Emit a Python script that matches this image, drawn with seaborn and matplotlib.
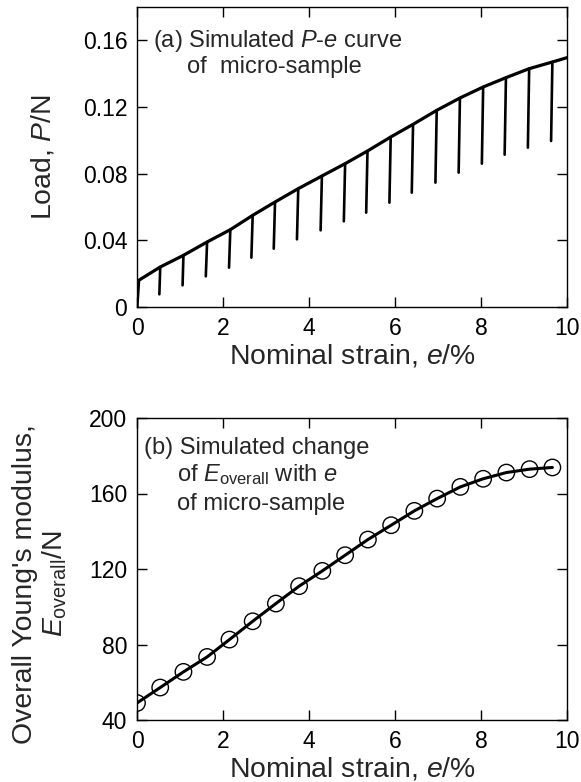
import matplotlib
matplotlib.use("Agg")
import matplotlib.pyplot as plt
import seaborn as sns
import pandas as pd

# ---- data ----
load_strain = [0.0, 0.04, 0.54, 1.08, 1.63, 2.17, 2.69, 3.21, 3.75, 4.30, 4.84,
               5.36, 5.90, 6.42, 6.97, 7.51, 8.05, 8.58, 9.12, 9.66, 10.0]
load_value = [0.0, 0.016, 0.024, 0.031, 0.039, 0.0464, 0.055, 0.063, 0.071, 0.0786,
              0.086, 0.0936, 0.102, 0.1096, 0.118, 0.1254, 0.132, 0.1376, 0.143,
              0.147, 0.1496]

unload_strain_top = [0.54, 1.08, 1.63, 2.17, 2.69, 3.21, 3.75, 4.30, 4.84, 5.36,
                     5.90, 6.42, 6.97, 7.51, 8.05, 8.58, 9.12, 9.66]
unload_load_top = [0.024, 0.031, 0.039, 0.0464, 0.055, 0.063, 0.071, 0.0786, 0.086,
                   0.0936, 0.102, 0.1096, 0.118, 0.1254, 0.132, 0.1376, 0.143, 0.147]
unload_strain_bot = [0.52, 1.06, 1.60, 2.14, 2.66, 3.18, 3.72, 4.27, 4.81, 5.33,
                     5.87, 6.39, 6.94, 7.48, 8.02, 8.55, 9.09, 9.63]
unload_load_bot = [0.0076, 0.013, 0.0184, 0.0236, 0.0296, 0.035, 0.0406, 0.046,
                   0.0514, 0.0566, 0.0626, 0.0686, 0.0746, 0.0806, 0.086, 0.0914,
                   0.0956, 0.0996]

mod_strain = [0.0, 0.54, 1.08, 1.63, 2.15, 2.69, 3.23, 3.77, 4.31, 4.84, 5.37,
              5.91, 6.45, 6.98, 7.52, 8.05, 8.59, 9.13, 9.66]
mod_value = [49.0, 57.2, 65.5, 73.4, 82.6, 92.3, 101.7, 110.9, 119.0, 127.3, 135.6,
             143.2, 150.8, 157.3, 163.5, 167.8, 171.1, 172.9, 173.8]

x_ticks = [0, 2, 4, 6, 8, 10]
load_ticks = [0, 0.04, 0.08, 0.12, 0.16]
load_tick_labels = ["0", "0.04", "0.08", "0.12", "0.16"]
mod_ticks = [40, 80, 120, 160, 200]

# ---- style ----
sns.set_style("ticks")
plt.rcParams["font.family"] = ["Liberation Sans", "DejaVu Sans"]
plt.rcParams["mathtext.fontset"] = "custom"
plt.rcParams["mathtext.rm"] = "Liberation Sans"
plt.rcParams["mathtext.it"] = "Liberation Sans:italic"
plt.rcParams["mathtext.bf"] = "Liberation Sans:bold"
plt.rcParams["axes.edgecolor"] = "black"
plt.rcParams["axes.linewidth"] = 1.0

LABEL_FS = 20.4
ANNOT_FS = 17
TICK_FS = 16.5

fig = plt.figure(figsize=(5.81, 7.82), dpi=100)
ax1 = fig.add_axes([137 / 581, 1 - 307 / 782, 430 / 581, 300 / 782])
ax2 = fig.add_axes([137 / 581, 1 - 720 / 782, 430 / 581, 302 / 782])

# ---- top panel ----
df_load = pd.DataFrame({"strain": load_strain, "load": load_value})
sns.lineplot(data=df_load, x="strain", y="load", ax=ax1, color="black",
             linewidth=2.3, sort=False, estimator=None)

seg_rows = []
for i in range(len(unload_strain_top)):
    seg_rows.append({"seg": i, "strain": unload_strain_top[i], "load": unload_load_top[i]})
    seg_rows.append({"seg": i, "strain": unload_strain_bot[i], "load": unload_load_bot[i]})
df_seg = pd.DataFrame(seg_rows)
sns.lineplot(data=df_seg, x="strain", y="load", units="seg", estimator=None,
             sort=False, ax=ax1, color="black", linewidth=1.9)

ax1.set_xlim(0, 10)
ax1.set_ylim(0, 0.18)
ax1.set_xticks(x_ticks)
ax1.set_yticks(load_ticks)
ax1.set_yticklabels(load_tick_labels)
ax1.set_xlabel(r"Nominal strain, $\it{e}$/%", fontsize=LABEL_FS, labelpad=2)
ax1.set_ylabel(r"Load, $\it{P}$/N", fontsize=LABEL_FS)
ax1.yaxis.label.set_va("center")
ax1.yaxis.set_label_coords(-0.218, 0.5)
ax1.text(0.038, 0.867, r"(a) Simulated $\it{P}$-$\it{e}$ curve", transform=ax1.transAxes,
         fontsize=ANNOT_FS, ha="left", va="baseline")
ax1.text(0.117, 0.78, "of  micro-sample", transform=ax1.transAxes,
         fontsize=ANNOT_FS, ha="left", va="baseline")

# ---- bottom panel ----
df_mod = pd.DataFrame({"strain": mod_strain, "modulus": mod_value})
sns.lineplot(data=df_mod, x="strain", y="modulus", ax=ax2, color="black",
             linewidth=2.2, sort=False, estimator=None)
sns.scatterplot(data=df_mod, x="strain", y="modulus", ax=ax2, s=140,
                facecolor="none", edgecolor="black", linewidth=1.0, zorder=3)

ax2.set_xlim(0, 10)
ax2.set_ylim(40, 200)
ax2.set_xticks(x_ticks)
ax2.set_yticks(mod_ticks)
ax2.set_xlabel(r"Nominal strain, $\it{e}$/%", fontsize=LABEL_FS, labelpad=2)
ax2.set_ylabel("Overall Young's modulus,\n" + r"$\it{E}_{\rm overall}$/N",
               fontsize=LABEL_FS, linespacing=1.1)
ax2.yaxis.label.set_va("center")
ax2.yaxis.set_label_coords(-0.225, 0.45)
ax2.text(0.016, 0.882, "(b) Simulated change", transform=ax2.transAxes,
         fontsize=ANNOT_FS, ha="left", va="baseline")
ax2.text(0.093, 0.792, r"of $\it{E}_{\rm overall}$ with $\it{e}$", transform=ax2.transAxes,
         fontsize=ANNOT_FS, ha="left", va="baseline")
ax2.text(0.093, 0.695, "of micro-sample", transform=ax2.transAxes,
         fontsize=ANNOT_FS, ha="left", va="baseline")

for ax in (ax1, ax2):
    ax.tick_params(direction="in", length=7, width=1.0, top=True, right=True,
                   labelsize=TICK_FS, pad=7, colors="black")
    for sp in ax.spines.values():
        sp.set_visible(True)
        sp.set_color("black")

fig.savefig("out.png", dpi=100)
